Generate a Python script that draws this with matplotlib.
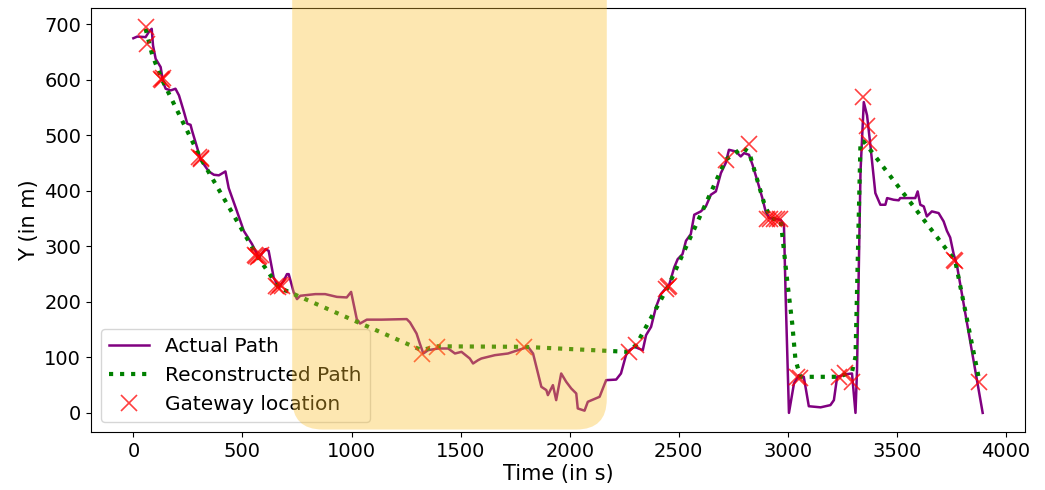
import matplotlib
matplotlib.use("Agg")
import matplotlib.pyplot as plt
from matplotlib.patches import FancyBboxPatch

# actual path (time in s, Y in m)
t_actual = [0, 18, 56, 72, 84, 90, 102, 125, 136, 148, 171, 193, 209, 232, 247, 262, 270,
            293, 308, 346, 369, 392, 422, 437, 475, 506, 544, 575, 605, 620, 643, 666, 689,
            704, 712, 735, 750, 765, 834, 879, 933, 978, 998, 1024, 1039, 1070, 1138, 1253,
            1268, 1298, 1313, 1329, 1351, 1397, 1443, 1474, 1504, 1542, 1557, 1580, 1595,
            1657, 1717, 1763, 1809, 1832, 1855, 1870, 1893, 1900, 1923, 1938, 1961, 1984,
            2007, 2030, 2037, 2068, 2083, 2137, 2167, 2213, 2235, 2258, 2274, 2297, 2335,
            2350, 2373, 2395, 2418, 2457, 2479, 2495, 2517, 2533, 2555, 2571, 2601, 2624,
            2647, 2670, 2693, 2715, 2730, 2761, 2784, 2799, 2822, 2838, 2861, 2883, 2898,
            2914, 2967, 2982, 2990, 3005, 3028, 3051, 3073, 3096, 3150, 3195, 3211, 3226,
            3272, 3294, 3310, 3317, 3333, 3348, 3363, 3378, 3394, 3401, 3424, 3447, 3455,
            3485, 3508, 3515, 3584, 3595, 3607, 3623, 3637, 3660, 3691, 3714, 3729, 3744,
            3760, 3774, 3893]
y_actual = [675, 678, 677, 687, 692, 662, 638, 623, 596, 584, 581, 584, 572, 542, 521, 519, 507,
            477, 456, 435, 429, 428, 435, 405, 363, 328, 304, 280, 295, 292, 244, 226, 238,
            250, 250, 217, 205, 211, 214, 214, 209, 208, 218, 169, 161, 168, 168, 169,
            163, 143, 125, 107, 113, 116, 116, 107, 110, 98, 89, 95, 98,
            104, 107, 113, 119, 107, 71, 47, 41, 32, 50, 23, 71, 56,
            44, 35, 8, 4, 20, 29, 59, 60, 71, 104, 113, 119, 113,
            140, 155, 190, 214, 232, 262, 277, 286, 310, 322, 357, 363, 372,
            393, 399, 432, 450, 474, 471, 462, 468, 465, 447, 417, 387, 363,
            351, 348, 339, 208, 0, 53, 68, 65, 12, 10, 14, 23, 65,
            70, 71, 0, 77, 435, 560, 536, 483, 423, 396, 375, 375, 387,
            384, 383, 387, 387, 399, 375, 372, 354, 363, 360, 345, 328, 316,
            286, 268, 0]

# reconstructed path
t_recon = [56, 87, 133, 308, 567, 666, 1321, 1390, 1790, 2266, 2304, 2449, 2715, 2769,
           2790, 2822, 2891, 2921, 2967, 2997, 3020, 3035, 3058, 3234, 3294, 3310, 3333,
           3348, 3767, 3874]
y_recon = [692, 644, 599, 459, 283, 226, 113, 120, 119, 110, 122, 226, 456, 471,
           478, 470, 378, 350, 348, 238, 161, 95, 65, 65, 74, 101, 489,
           489, 274, 65]

# gateway locations
t_gw = [56, 64, 128, 133, 138, 303, 308, 312, 557, 564, 571, 578, 585, 656, 664, 672, 680,
        1321, 1390, 1790, 2274, 2304, 2443, 2449, 2455, 2715, 2822, 2905, 2920, 2935,
        2950, 2965, 3043, 3056, 3234, 3264, 3294, 3345, 3363, 3371, 3762, 3767, 3874]
y_gw = [695, 665, 601, 599, 603, 461, 459, 457, 285, 283, 281, 283, 285, 228, 226, 230, 228,
        107, 119, 119, 110, 122, 224, 226, 228, 456, 484, 350, 350, 350,
        350, 350, 65, 62, 65, 71, 56, 569, 516, 486, 275, 273, 56]

# highlighted time window
span_start, span_end = 728, 2170

fig, ax = plt.subplots(figsize=(10.45, 4.9), dpi=100)
fig.subplots_adjust(left=0.087, right=0.981, top=0.984, bottom=0.118)

ax.plot(t_actual, y_actual, color="purple", lw=1.8, label="Actual Path")
ax.plot(t_recon, y_recon, color="green", lw=3, ls=":", label="Reconstructed Path")
ax.plot(t_gw, y_gw, "x", color="red", ms=12, mew=1.2, alpha=0.75, label="Gateway location")

ax.set_xticks(range(0, 4001, 500))
ax.set_yticks(range(0, 701, 100))
ax.tick_params(labelsize=14)
ax.set_xlabel("Time (in s)", fontsize=15, labelpad=2)
ax.set_ylabel("Y (in m)", fontsize=15)
ax.legend(loc="lower left", fontsize=14.5)

# rounded highlight box, drawn over everything
px_x = 0.21875
px_y = 0.5586
box = FancyBboxPatch((span_start, -30), span_end - span_start, 830,
                     boxstyle="round,pad=0,rounding_size=140",
                     mutation_aspect=px_x / px_y,
                     facecolor="#FAC02D", edgecolor="none", alpha=0.37,
                     zorder=10, clip_on=False)
ax.add_patch(box)

fig.savefig("out.png")
